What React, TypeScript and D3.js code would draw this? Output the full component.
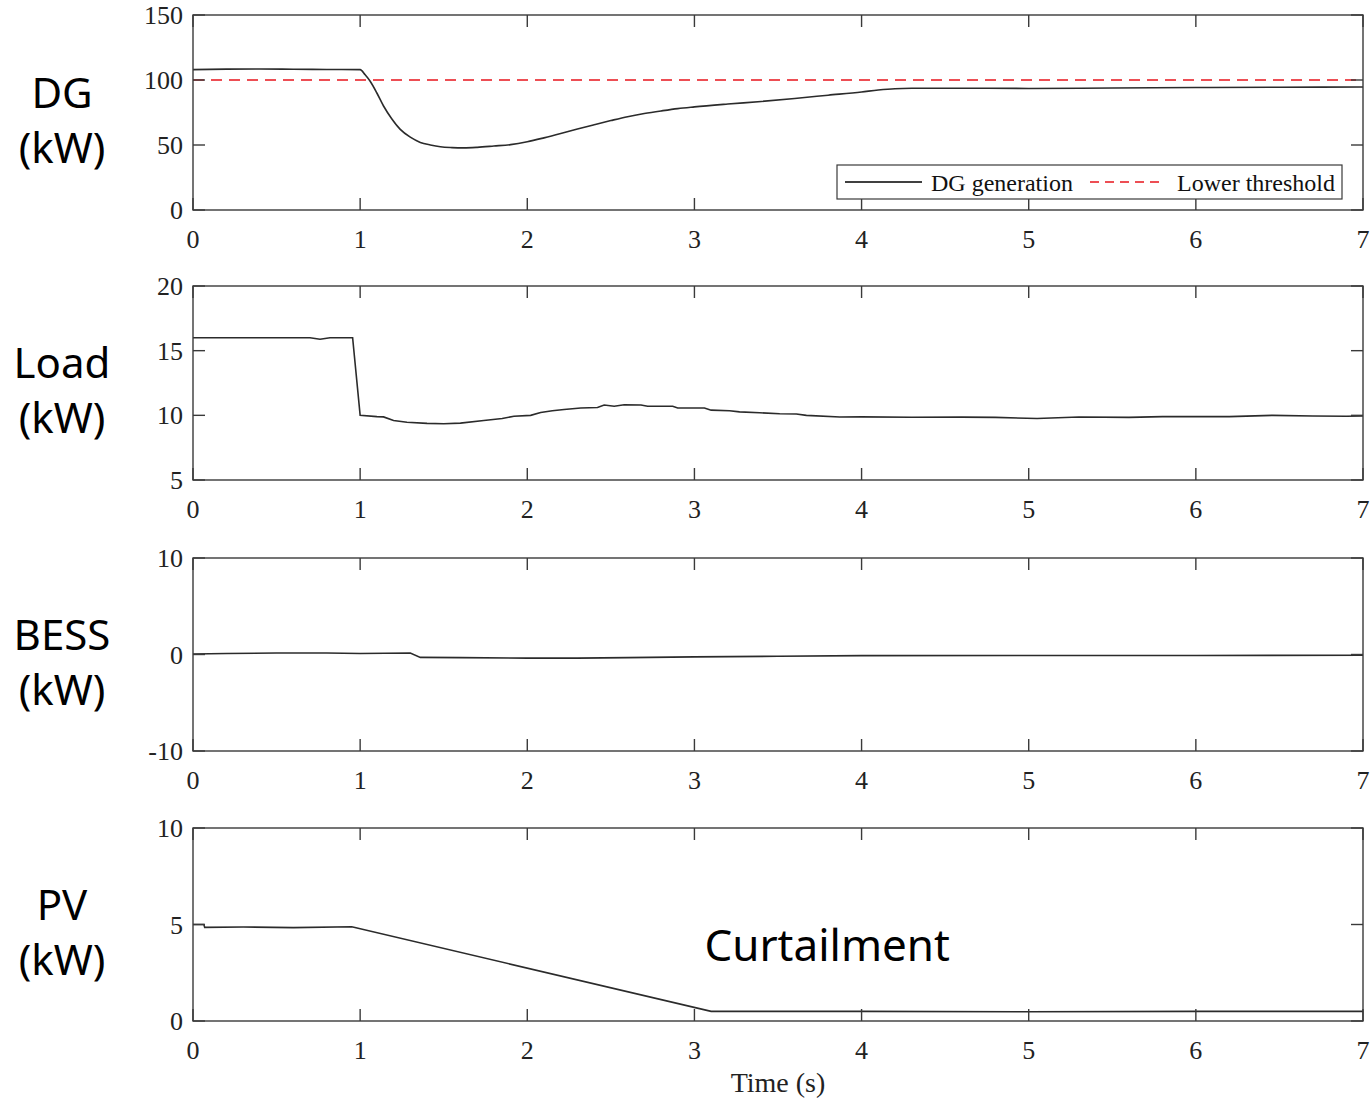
import React from "react";
import * as d3 from "d3";

// ---- data ----
const dgTime = [0, 0.2, 0.4, 0.6, 0.8, 1.0, 1.03, 1.06, 1.1, 1.14, 1.19, 1.24, 1.3, 1.36, 1.42, 1.48, 1.55, 1.62, 1.7, 1.8, 1.9, 2.0, 2.1, 2.2, 2.3, 2.4, 2.5, 2.6, 2.7, 2.8, 2.9, 3.0, 3.2, 3.4, 3.6, 3.8, 4.0, 4.1, 4.2, 4.3, 4.5, 5.0, 5.5, 6.0, 6.5, 7.0];
const dgValue = [108, 108.4, 108.5, 108.3, 108.1, 108, 104, 99, 90, 80, 70, 62, 56, 52, 50, 48.6, 48, 47.8, 48.2, 49.2, 50.3, 52.5, 55.5, 58.8, 62.3, 65.6, 68.8, 71.8, 74.2, 76.2, 78, 79.3, 81.5, 83.5, 85.8, 88.3, 90.8, 92.3, 93.3, 93.6, 93.7, 93.5, 93.8, 94.2, 94.4, 94.6];
const thresholdTime = [0, 7];
const thresholdValue = [100, 100];

const loadTime = [0, 0.7, 0.76, 0.82, 0.955, 1.0, 1.1, 1.14, 1.2, 1.28, 1.4, 1.5, 1.6, 1.74, 1.85, 1.92, 2.02, 2.08, 2.15, 2.22, 2.32, 2.42, 2.46, 2.52, 2.58, 2.68, 2.72, 2.87, 2.9, 3.06, 3.1, 3.21, 3.27, 3.39, 3.51, 3.61, 3.67, 3.87, 4.0, 4.3, 4.6, 4.8, 5.05, 5.3, 5.6, 5.8, 6.2, 6.46, 6.7, 6.9, 7.0];
const loadValue = [16, 16, 15.88, 16, 16, 10, 9.9, 9.88, 9.6, 9.46, 9.38, 9.35, 9.4, 9.6, 9.75, 9.93, 10.0, 10.22, 10.35, 10.45, 10.57, 10.6, 10.8, 10.7, 10.82, 10.8, 10.7, 10.7, 10.57, 10.57, 10.4, 10.35, 10.27, 10.2, 10.12, 10.1, 10.0, 9.87, 9.88, 9.85, 9.86, 9.84, 9.75, 9.87, 9.84, 9.9, 9.9, 10.0, 9.95, 9.93, 9.95];

const bessTime = [0, 0.2, 0.5, 0.8, 1.0, 1.3, 1.36, 1.6, 2.0, 2.3, 2.6, 3.0, 3.5, 4.0, 5.0, 6.0, 7.0];
const bessValue = [0.05, 0.1, 0.15, 0.15, 0.1, 0.15, -0.3, -0.32, -0.38, -0.38, -0.32, -0.25, -0.18, -0.12, -0.1, -0.1, -0.08];

const pvTime = [0, 0.065, 0.07, 0.3, 0.6, 0.95, 3.1, 4.0, 5.0, 6.0, 7.0];
const pvValue = [5.0, 5.0, 4.85, 4.87, 4.84, 4.88, 0.5, 0.5, 0.48, 0.5, 0.5];

const xTicks = [0, 1, 2, 3, 4, 5, 6, 7];
const dgTicks = [0, 50, 100, 150];
const loadTicks = [5, 10, 15, 20];
const bessTicks = [-10, 0, 10];
const pvTicks = [0, 5, 10];

const panelNames = ["DG", "Load", "BESS", "PV"];
const legendLabels = ["DG generation", "Lower threshold"];
const annotation = "Curtailment";
const xLabel = "Time (s)";

// ---- layout ----
const W = 1372;
const H = 1101;
const left = 193;
const right = 1363;
const panelTops = [15, 286, 558, 828];
const panelBottoms = [210, 480, 751, 1021];
const tickLen = 12;
const frameColor = "#3a3a3a";
const lineColor = "#2b2b2b";
const serif = "'Liberation Serif', 'Times New Roman', serif";
const sans = "'Noto Sans', 'Open Sans', sans-serif";

const zip = (t: number[], v: number[]) => t.map((x, i) => [x, v[i]] as [number, number]);

type Series = { pts: [number, number][]; color: string; dash?: string; width: number; smooth?: boolean };

function Panel({ idx, domain, yTicks, series, children }: { idx: number; domain: [number, number]; yTicks: number[]; series: Series[]; children?: React.ReactNode }) {
  const top = panelTops[idx];
  const bottom = panelBottoms[idx];
  const x = d3.scaleLinear().domain([0, 7]).range([left, right]);
  const y = d3.scaleLinear().domain(domain).range([bottom, top]);
  const clipId = `clip${idx}`;
  return (
    <g>
      <defs>
        <clipPath id={clipId}>
          <rect x={left} y={top} width={right - left} height={bottom - top} />
        </clipPath>
      </defs>
      <g clipPath={`url(#${clipId})`}>
        {series.map((s, i) => {
          const gen = d3.line<[number, number]>().x((d) => x(d[0])).y((d) => y(d[1]));
          if (s.smooth) gen.curve(d3.curveMonotoneX);
          return <path key={i} d={gen(s.pts) || ""} fill="none" stroke={s.color} strokeWidth={s.width} strokeDasharray={s.dash} />;
        })}
      </g>
      <rect x={left} y={top} width={right - left} height={bottom - top} fill="none" stroke={frameColor} strokeWidth={1.4} />
      {xTicks.map((t) => (
        <g key={"x" + t}>
          <line x1={x(t)} x2={x(t)} y1={bottom} y2={bottom - tickLen} stroke={frameColor} strokeWidth={1.4} />
          <line x1={x(t)} x2={x(t)} y1={top} y2={top + tickLen} stroke={frameColor} strokeWidth={1.4} />
          <text x={x(t)} y={bottom + 38} textAnchor="middle" fontFamily={serif} fontSize={26} fill="#222">{t}</text>
        </g>
      ))}
      {yTicks.map((t) => (
        <g key={"y" + t}>
          <line x1={left} x2={left + tickLen} y1={y(t)} y2={y(t)} stroke={frameColor} strokeWidth={1.4} />
          <line x1={right} x2={right - tickLen} y1={y(t)} y2={y(t)} stroke={frameColor} strokeWidth={1.4} />
          <text x={183} y={y(t) + 9} textAnchor="end" fontFamily={serif} fontSize={26} fill="#222">{t}</text>
        </g>
      ))}
      <text x={62} y={(top + bottom) / 2 - 5} textAnchor="middle" fontFamily={sans} fontSize={42} fill="#000">{panelNames[idx]}</text>
      <text x={62} y={(top + bottom) / 2 + 50} textAnchor="middle" fontFamily={sans} fontSize={42} fill="#000">(kW)</text>
      {children}
    </g>
  );
}

export default function App() {
  const x = d3.scaleLinear().domain([0, 7]).range([left, right]);
  const yPv = d3.scaleLinear().domain([0, 10]).range([panelBottoms[3], panelTops[3]]);
  return (
    <svg width={W} height={H} style={{ position: "absolute", left: 0, top: 0, background: "#fff" }}>
      <rect width={W} height={H} fill="#fff" />
      <Panel idx={0} domain={[0, 150]} yTicks={dgTicks} series={[
        { pts: zip(thresholdTime, thresholdValue), color: "#e8141c", dash: "11,7", width: 1.6 },
        { pts: zip(dgTime, dgValue), color: lineColor, width: 1.6, smooth: true },
      ]}>
        <g>
          <rect x={837} y={165} width={505} height={34} fill="#fff" stroke={frameColor} strokeWidth={1.2} />
          <line x1={845} x2={922} y1={182} y2={182} stroke="#000" strokeWidth={1.5} />
          <text x={931} y={191} fontFamily={serif} fontSize={24} fill="#111">{legendLabels[0]}</text>
          <line x1={1090} x2={1165} y1={182} y2={182} stroke="#e8141c" strokeWidth={1.5} strokeDasharray="9,6" />
          <text x={1177} y={191} fontFamily={serif} fontSize={24} fill="#111">{legendLabels[1]}</text>
        </g>
      </Panel>
      <Panel idx={1} domain={[5, 20]} yTicks={loadTicks} series={[
        { pts: zip(loadTime, loadValue), color: lineColor, width: 1.6 },
      ]} />
      <Panel idx={2} domain={[-10, 10]} yTicks={bessTicks} series={[
        { pts: zip(bessTime, bessValue), color: lineColor, width: 1.6 },
      ]} />
      <Panel idx={3} domain={[0, 10]} yTicks={pvTicks} series={[
        { pts: zip(pvTime, pvValue), color: lineColor, width: 1.6 },
      ]}>
        <text x={x(3.06)} y={yPv(3.1)} fontFamily={sans} fontSize={44} fill="#000">{annotation}</text>
      </Panel>
      <text x={(left + right) / 2} y={1092} textAnchor="middle" fontFamily={serif} fontSize={28} fill="#222">{xLabel}</text>
    </svg>
  );
}
